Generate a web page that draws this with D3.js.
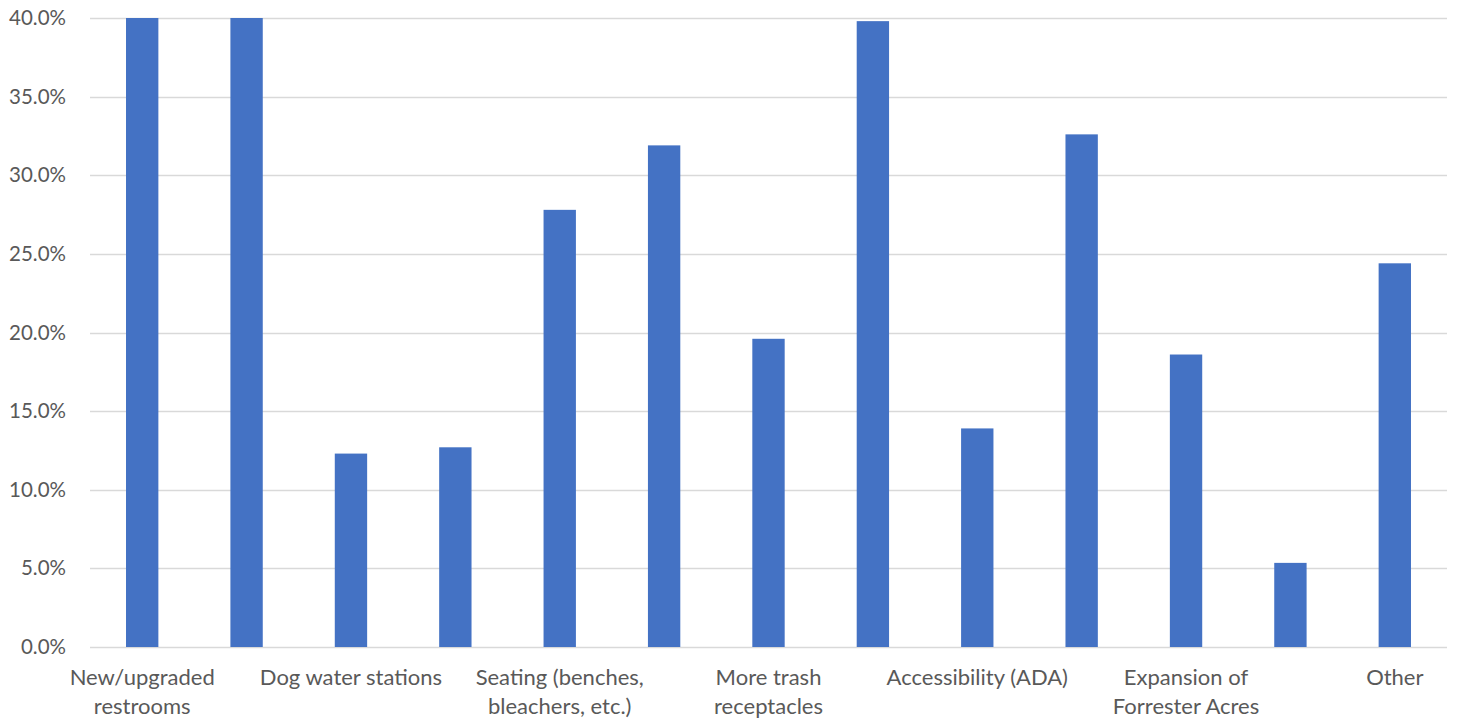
<!DOCTYPE html>
<html>
<head>
<meta charset="utf-8">
<script src="https://cdn.jsdelivr.net/npm/d3@7"></script>
<style>
  html, body { margin: 0; padding: 0; background: #fff; }
  svg { display: block; }
</style>
</head>
<body>
<svg id="chart" width="1458" height="721"></svg>
<script>
// Category labels (Excel only shows every other label; hidden ones are blank)
const categories = [
  "New/upgraded restrooms", "", "Dog water stations", "",
  "Seating (benches, bleachers, etc.)", "", "More trash receptacles", "",
  "Accessibility (ADA)", "", "Expansion of Forrester Acres", "", "Other"
];
// Percent values (first two bars run past the 40% axis maximum)
const values = [40.0, 40.0, 12.3, 12.7, 27.8, 31.9, 19.6, 39.8, 13.9, 32.6, 18.6, 5.35, 24.4];
const yTicks = [0, 5, 10, 15, 20, 25, 30, 35, 40];

const svg = d3.select("#chart");
const margin = { left: 90, right: 11, top: 18, bottom: 74 };
const W = 1458, H = 721;
const innerW = W - margin.left - margin.right;
const innerH = H - margin.top - margin.bottom;
const font = "Lato, 'Open Sans', sans-serif";
const textColor = "#595959";

const g = svg.append("g").attr("transform", `translate(${margin.left},${margin.top})`);

const x = d3.scaleBand().domain(d3.range(categories.length)).range([0, innerW]).paddingInner(0.69).paddingOuter(0.345);
const y = d3.scaleLinear().domain([0, 40]).range([innerH, 0]);

// gridlines
g.append("g").selectAll("line").data(yTicks).join("line")
  .attr("x1", 0).attr("x2", innerW)
  .attr("y1", d => Math.round(y(d)) + 0.5).attr("y2", d => Math.round(y(d)) + 0.5)
  .attr("stroke", "#d9d9d9").attr("stroke-width", 1.3);

// y axis labels
const yAxis = d3.axisLeft(y).tickValues(yTicks).tickFormat(d => d3.format(".1f")(d) + "%").tickSize(0).tickPadding(24);
const ya = g.append("g").call(yAxis);
ya.select(".domain").remove();
ya.selectAll("text").attr("font-family", font).attr("font-size", 20.5).attr("fill", textColor);

// bars
g.append("g").selectAll("rect").data(values).join("rect")
  .attr("x", (d, i) => x(i))
  .attr("width", x.bandwidth())
  .attr("y", d => y(Math.min(d, 40)))
  .attr("height", d => innerH - y(Math.min(d, 40)))
  .attr("fill", "#4472C4");

// x axis labels with wrapping
const xAxis = d3.axisBottom(x).tickFormat(i => categories[i]).tickSize(0).tickPadding(0);
const xa = g.append("g").attr("transform", `translate(0,${innerH})`).call(xAxis);
xa.select(".domain").remove();
const maxW = 195;
xa.selectAll("text").each(function(i) {
  const t = d3.select(this);
  const words = categories[i].split(" ");
  t.text(null).attr("font-family", font).attr("font-size", 22).attr("fill", textColor).attr("y", 0).attr("dy", null);
  let lines = [], cur = [];
  const tmp = t.append("tspan");
  words.forEach(w => {
    const test = cur.concat([w]).join(" ");
    tmp.text(test);
    if (tmp.node().getComputedTextLength() > maxW && cur.length) { lines.push(cur.join(" ")); cur = [w]; }
    else cur.push(w);
  });
  if (cur.length) lines.push(cur.join(" "));
  tmp.remove();
  lines.forEach((l, k) => {
    t.append("tspan").attr("x", 0).attr("y", 38 + k * 28.5).text(l);
  });
});
</script>
</body>
</html>
